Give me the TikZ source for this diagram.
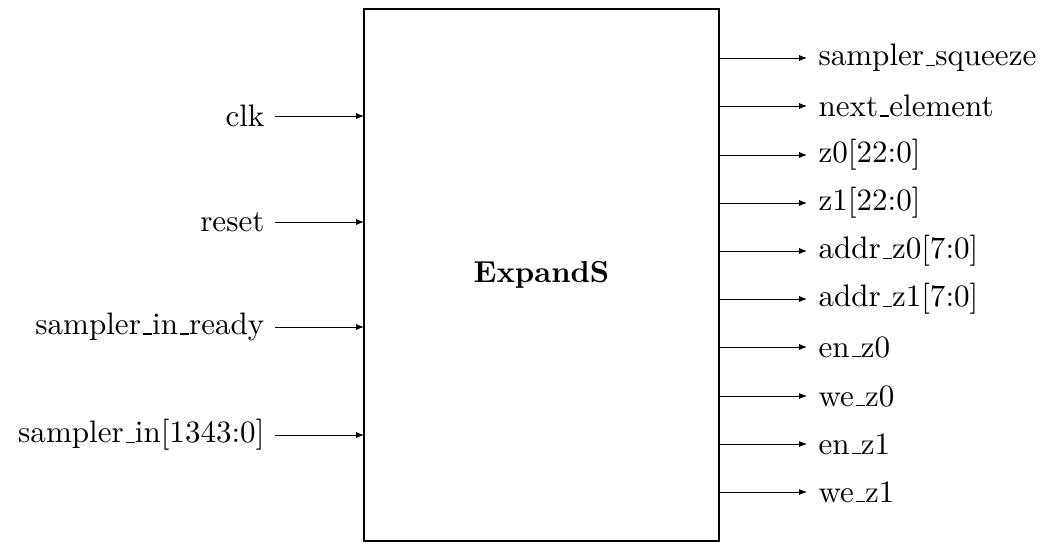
\documentclass[tikz,border=0pt]{standalone}
\usetikzlibrary{positioning,arrows.meta}
\newcommand{\us}{\leavevmode\kern.06em\vbox{\hrule width.3em}}
\begin{document}
\begin{tikzpicture}[
  x=0.33pt,y=-0.33pt,
  port/.style={-{Latex[length=2.6pt,width=2pt]},line width=0.3pt},
  plabel/.style={font=\fontsize{10.25pt}{12pt}\selectfont,inner sep=0pt},
]
\useasboundingbox (0,0) rectangle (1060,553);
\draw[line width=0.5pt] (364,9) rectangle (719,541);
\node[font=\bfseries] (core) at (541.5,275) {ExpandS};
% inputs
\foreach \name/\y [count=\i] in {clk/116,reset/222,sampler\us in\us ready/327,sampler\us in[1343:0]/435}{
  \coordinate (in\i) at (275,\y);
  \coordinate (inb\i) at (364,\y);
  \draw[port] (in\i) -- (inb\i);
  \node[plabel,left=10pt*0.33 of in\i] (inl\i) {\name};
}
% outputs
\foreach \name/\y [count=\i] in {sampler\us squeeze/58,next\us element/106,z0[22:0]/155,z1[22:0]/203,addr\us z0[7:0]/251,addr\us z1[7:0]/299,en\us z0/347,we\us z0/396,en\us z1/444,we\us z1/492}{
  \coordinate (outb\i) at (719,\y);
  \coordinate (out\i) at (807,\y);
  \draw[port] (outb\i) -- (out\i);
  \node[plabel,right=11pt*0.33 of out\i] (outl\i) {\name};
}
\end{tikzpicture}
\end{document}
